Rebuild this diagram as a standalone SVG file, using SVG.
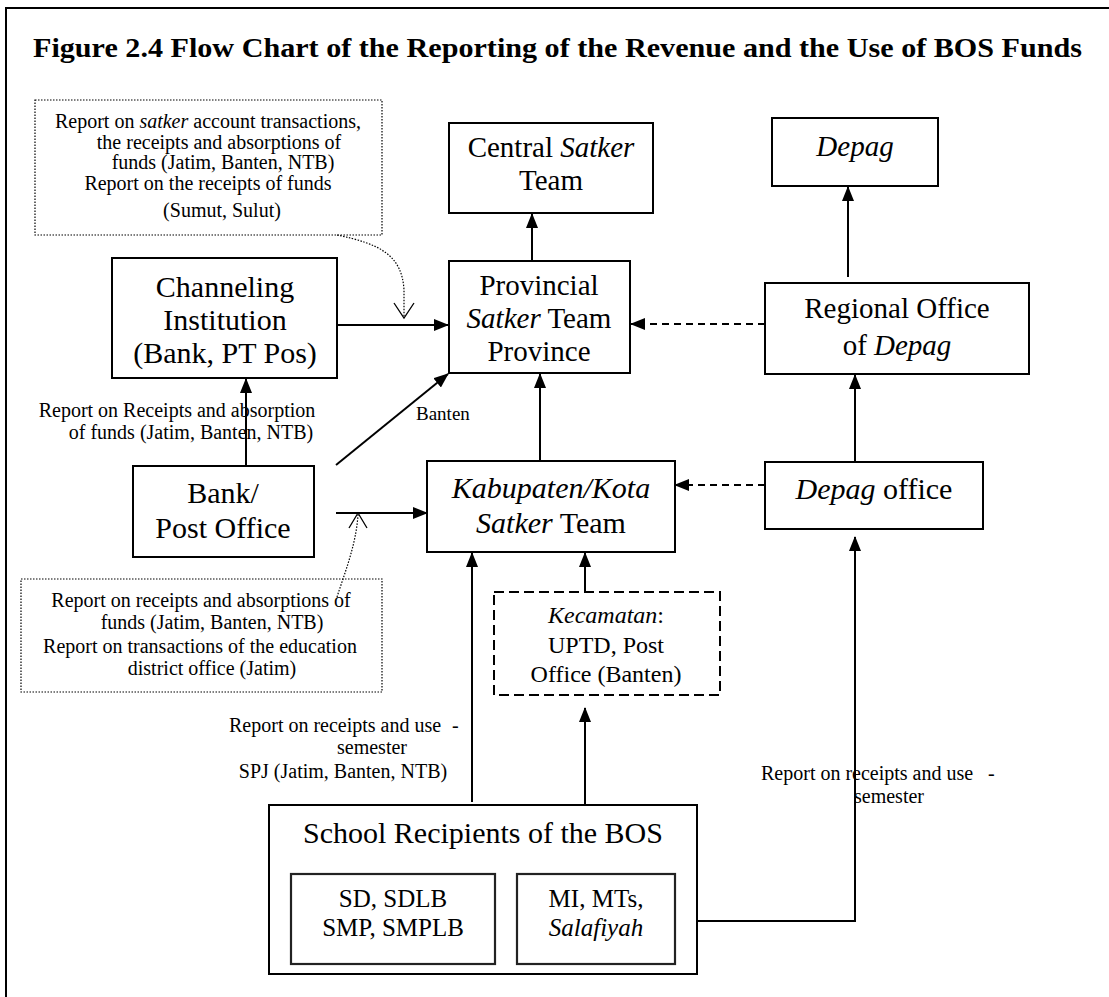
<svg xmlns="http://www.w3.org/2000/svg" width="1109" height="997" viewBox="0 0 1109 997">
  <style>
    text { font-family: "Liberation Serif", "Times New Roman", serif; fill: #000; }
    .t { font-size: 27px; font-weight: bold; }
    .n { font-size: 29px; text-anchor: middle; }
    .k { font-size: 24px; text-anchor: middle; }
    .s { font-size: 25px; text-anchor: middle; }
    .h { font-size: 30px; text-anchor: middle; }
    .l { font-size: 20px; }
    .c { text-anchor: middle; }
    .i { font-style: italic; }
    .box { fill: #fff; stroke: #000; stroke-width: 2; }
    .inner { fill: #fff; stroke: #222; stroke-width: 2.2; }
    .dbox { fill: none; stroke: #000; stroke-width: 2; stroke-dasharray: 10 5; }
    .note { fill: none; stroke: #000; stroke-width: 1.2; stroke-dasharray: 1.5 1.5; }
    .ln { fill: none; stroke: #000; stroke-width: 2; }
    .dash { fill: none; stroke: #000; stroke-width: 2; stroke-dasharray: 7 5; }
    .dot { fill: none; stroke: #000; stroke-width: 1.2; stroke-dasharray: 1.5 1.5; }
    .v { fill: none; stroke: #000; stroke-width: 1.3; }
  </style>
  <defs>
    <marker id="ah" markerUnits="userSpaceOnUse" markerWidth="15" markerHeight="12" refX="14" refY="6" orient="auto">
      <path d="M0,0 L15,6 L0,12 z" fill="#000"/>
    </marker>
  </defs>

  <!-- frame -->
  <path d="M1109,8 H6 V997" fill="none" stroke="#000" stroke-width="2"/>

  <text class="t" x="33" y="57" textLength="1049" lengthAdjust="spacingAndGlyphs">Figure 2.4 Flow Chart of the Reporting of the Revenue and the Use of BOS Funds</text>

  <!-- notes -->
  <g id="note-top">
    <rect class="note" x="35" y="100" width="347" height="135"/>
    <text class="l c" x="208" y="128">Report on <tspan class="i">satker</tspan> account transactions,</text>
    <text class="l c" x="219" y="149">the receipts and absorptions of</text>
    <text class="l c" x="223" y="169">funds (Jatim, Banten, NTB)</text>
    <text class="l c" x="208" y="190">Report on the receipts of funds</text>
    <text class="l c" x="222" y="217">(Sumut, Sulut)</text>
  </g>

  <g id="note-bottom">
    <rect class="note" x="21" y="579" width="361" height="113"/>
    <text class="l c" x="201" y="607">Report on receipts and absorptions of</text>
    <text class="l c" x="212" y="629">funds (Jatim, Banten, NTB)</text>
    <text class="l c" x="200" y="653">Report on transactions of the education</text>
    <text class="l c" x="212" y="675">district office (Jatim)</text>
  </g>

  <!-- connectors -->
  <g id="connectors">
    <line class="ln" x1="337" y1="325" x2="448" y2="325" marker-end="url(#ah)"/>
    <line class="ln" x1="532" y1="261" x2="532" y2="214" marker-end="url(#ah)"/>
    <line class="ln" x1="848" y1="277" x2="848" y2="187" marker-end="url(#ah)"/>
    <line class="dash" x1="765" y1="324" x2="631" y2="324" marker-end="url(#ah)"/>
    <line class="ln" x1="246" y1="466" x2="246" y2="379" marker-end="url(#ah)"/>
    <line class="ln" x1="336" y1="465" x2="448" y2="374" marker-end="url(#ah)"/>
    <line class="ln" x1="540" y1="461" x2="540" y2="374" marker-end="url(#ah)"/>
    <line class="ln" x1="855" y1="462" x2="855" y2="375" marker-end="url(#ah)"/>
    <line class="ln" x1="336" y1="513" x2="427" y2="513" marker-end="url(#ah)"/>
    <line class="dash" x1="765" y1="485" x2="675" y2="485" marker-end="url(#ah)"/>
    <line class="ln" x1="585" y1="592" x2="585" y2="553" marker-end="url(#ah)"/>
    <line class="ln" x1="472" y1="802" x2="472" y2="553" marker-end="url(#ah)"/>
    <line class="ln" x1="585" y1="805" x2="585" y2="708" marker-end="url(#ah)"/>
    <path class="ln" d="M675,921 H855 V537" marker-end="url(#ah)"/>
    <!-- dotted callouts -->
    <path class="dot" d="M337,235 C380,244 402,255 404,290 L404,316"/>
    <polyline class="v" points="394,303 404,318 414,303"/>
    <path class="dot" d="M337,597 C345,572 356,545 358,515"/>
    <polyline class="v" points="349,528 358,513 367,528"/>
  </g>

  <!-- labels -->
  <g id="labels">
    <text class="l c" x="177" y="417">Report on Receipts and absorption</text>
    <text class="l c" x="191" y="439">of funds (Jatim, Banten, NTB)</text>
    <text class="l" x="416" y="420" style="font-size:19px">Banten</text>
    <text class="l" x="229" y="732">Report on receipts and use</text>
    <text class="l" x="452" y="732">-</text>
    <text class="l c" x="372" y="754">semester</text>
    <text class="l c" x="343" y="778">SPJ (Jatim, Banten, NTB)</text>
    <text class="l" x="761" y="780">Report on receipts and use</text>
    <text class="l" x="988" y="780">-</text>
    <text class="l c" x="889" y="803">semester</text>
  </g>

  <!-- nodes -->
  <g id="central-satker">
    <rect class="box" x="449" y="123" width="204" height="90"/>
    <text class="n" x="551" y="157">Central <tspan class="i">Satker</tspan></text>
    <text class="n" x="551" y="190">Team</text>
  </g>

  <g id="depag">
    <rect class="box" x="772" y="118" width="166" height="68"/>
    <text class="n i" x="855" y="156">Depag</text>
  </g>

  <g id="channeling">
    <rect class="box" x="112" y="258" width="225" height="120"/>
    <text class="h" x="225" y="297">Channeling</text>
    <text class="h" x="225" y="330">Institution</text>
    <text class="h" x="225" y="363">(Bank, PT Pos)</text>
  </g>

  <g id="provincial">
    <rect class="box" x="449" y="261" width="181" height="112"/>
    <text class="n" x="539" y="295">Provincial</text>
    <text class="n" x="539" y="328"><tspan class="i">Satker</tspan> Team</text>
    <text class="n" x="539" y="361">Province</text>
  </g>

  <g id="regional-office">
    <rect class="box" x="765" y="283" width="264" height="91"/>
    <text class="n" x="897" y="318">Regional Office</text>
    <text class="n" x="897" y="355">of <tspan class="i">Depag</tspan></text>
  </g>

  <g id="bank-post">
    <rect class="box" x="133" y="466" width="181" height="91"/>
    <text class="h" x="223" y="503">Bank/</text>
    <text class="h" x="223" y="538">Post Office</text>
  </g>

  <g id="kabupaten">
    <rect class="box" x="427" y="461" width="248" height="91"/>
    <text class="h i" x="551" y="498">Kabupaten/Kota</text>
    <text class="h" x="551" y="533"><tspan class="i">Satker</tspan> Team</text>
  </g>

  <g id="depag-office">
    <rect class="box" x="765" y="462" width="218" height="67"/>
    <text class="h" x="874" y="499"><tspan class="i">Depag</tspan> office</text>
  </g>

  <g id="kecamatan">
    <rect class="dbox" x="494" y="592" width="226" height="103"/>
    <text class="k" x="606" y="623"><tspan class="i">Kecamatan</tspan>:</text>
    <text class="k" x="606" y="653">UPTD, Post</text>
    <text class="k" x="606" y="682">Office (Banten)</text>
  </g>

  <g id="schools">
    <rect class="box" x="269" y="805" width="428" height="169"/>
    <text class="h" x="483" y="843">School Recipients of the BOS</text>
    <rect class="inner" x="291" y="874" width="204" height="90"/>
    <text class="s" x="393" y="907">SD, SDLB</text>
    <text class="s" x="393" y="936">SMP, SMPLB</text>
    <rect class="inner" x="517" y="874" width="158" height="90"/>
    <text class="s" x="596" y="907">MI, MTs,</text>
    <text class="s i" x="596" y="936">Salafiyah</text>
  </g>
</svg>
